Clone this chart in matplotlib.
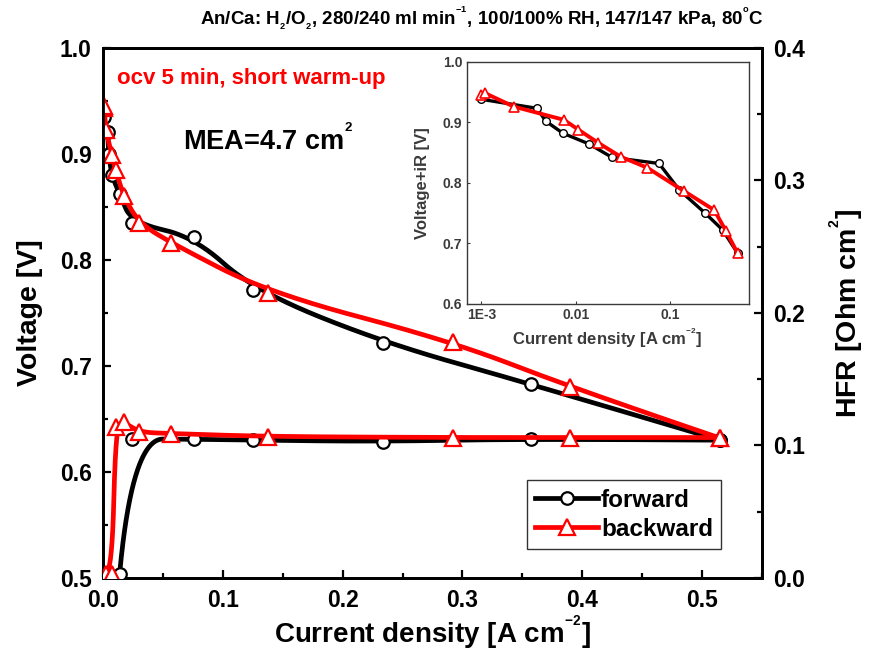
import numpy as np
import matplotlib
matplotlib.use("Agg")
import matplotlib.pyplot as plt
from matplotlib.ticker import MultipleLocator, FixedLocator, FixedFormatter, NullLocator
from matplotlib.lines import Line2D

plt.rcParams['font.family'] = ['Liberation Sans', 'DejaVu Sans']
plt.rcParams['font.weight'] = 'bold'
plt.rcParams['axes.labelweight'] = 'bold'
plt.rcParams['mathtext.fontset'] = 'custom'
plt.rcParams['mathtext.rm'] = 'Liberation Sans:bold'
plt.rcParams['mathtext.bf'] = 'Liberation Sans:bold'
plt.rcParams['mathtext.default'] = 'bf'

# ---- forward sweep (low -> high current) ----
j_fwd = [0.001, 0.0039, 0.0048, 0.0073, 0.0139, 0.0242, 0.076, 0.125, 0.234, 0.357, 0.515]
v_fwd = [0.935, 0.921, 0.900, 0.880, 0.862, 0.835, 0.822, 0.772, 0.722, 0.683, 0.630]
hfr_fwd = [np.nan, np.nan, np.nan, np.nan, 0.003, 0.105, 0.1047, 0.104, 0.103, 0.105, 0.104]
viR_fwd = [0.938, 0.923, 0.902, 0.882, 0.864, 0.842, 0.832, 0.788, 0.750, 0.7225, 0.684]

# ---- backward sweep ----
j_bwd = [0.001, 0.0011, 0.0022, 0.0075, 0.0106, 0.0173, 0.030, 0.057, 0.138, 0.292, 0.39, 0.515]
v_bwd = [0.943, 0.945, 0.923, 0.899, 0.885, 0.860, 0.835, 0.816, 0.769, 0.723, 0.680, 0.632]
hfr_bwd = [np.nan, np.nan, 0.003, 0.003, 0.114, 0.118, 0.110, 0.109, 0.1067, 0.106, 0.106, 0.106]
viR_bwd = [0.945, 0.948, 0.926, 0.904, 0.888, 0.866, 0.843, 0.825, 0.787, 0.755, 0.720, 0.684]

x_ticks = [0.0, 0.1, 0.2, 0.3, 0.4, 0.5]
v_ticks = [0.5, 0.6, 0.7, 0.8, 0.9, 1.0]
hfr_ticks = [0.0, 0.1, 0.2, 0.3, 0.4]
inset_x_ticks = [0.001, 0.01, 0.1]
inset_x_labels = ['1E-3', '0.01', '0.1']
inset_y_ticks = [0.6, 0.7, 0.8, 0.9, 1.0]


def bspline(xs, ys, k=2, n=400):
    """Clamped B-spline curve using the data points as control points."""
    xs = np.asarray(xs, float)
    ys = np.asarray(ys, float)
    ok = ~(np.isnan(xs) | np.isnan(ys))
    pts = np.column_stack([xs[ok], ys[ok]])
    m = len(pts)
    k = min(k, m - 1)
    knots = np.concatenate([np.zeros(k), np.linspace(0, 1, m - k + 1), np.ones(k)])
    t = np.linspace(0, 1, n)
    nb = len(knots) - 1
    N = np.zeros((n, nb))
    for i in range(nb):
        N[:, i] = (knots[i] <= t) & (t < knots[i + 1])
    last = max(i for i in range(nb) if knots[i] < knots[i + 1])
    N[t >= 1.0, last] = 1.0
    for p in range(1, k + 1):
        Nn = np.zeros((n, nb - p))
        for i in range(nb - p):
            d1 = knots[i + p] - knots[i]
            d2 = knots[i + p + 1] - knots[i + 1]
            a = (t - knots[i]) / d1 * N[:, i] if d1 > 0 else 0.0
            b = (knots[i + p + 1] - t) / d2 * N[:, i + 1] if d2 > 0 else 0.0
            Nn[:, i] = a + b
        N = Nn
    c = N @ pts
    return c[:, 0], c[:, 1]


def sup(s):
    return '$^{{}^{\\mathbf{' + s + '}}}$'


def sub(s):
    return '$_{{}_{\\mathbf{' + s + '}}}$'


fig = plt.figure(figsize=(8.77, 6.58), dpi=100)
ax = fig.add_axes([0.1174, 0.1216, 0.7515, 0.8055])
ax2 = ax.twinx()

BLACK = '#000000'
RED = '#ff0000'
LW = 3.4
mk_c = dict(marker='o', markersize=9, markerfacecolor='white', markeredgewidth=1.6)
mk_t = dict(marker='^', markersize=11, markerfacecolor='white', markeredgewidth=1.6)

# polarization curves (left axis)
ax.plot(*bspline(j_fwd, v_fwd), color=BLACK, lw=LW, solid_capstyle='butt', zorder=2)
ax.plot(j_fwd, v_fwd, ls='none', color=BLACK, markeredgecolor=BLACK, zorder=3, **mk_c)
ax.plot(*bspline(j_bwd, v_bwd), color=RED, lw=LW, solid_capstyle='butt', zorder=4)
ax.plot(j_bwd, v_bwd, ls='none', color=RED, markeredgecolor=RED, zorder=5, **mk_t)

# HFR curves (right axis)
ax2.plot(*bspline(j_fwd, hfr_fwd), color=BLACK, lw=LW, solid_capstyle='butt', zorder=2)
ax2.plot(j_fwd, hfr_fwd, ls='none', color=BLACK, markeredgecolor=BLACK, zorder=3, **mk_c)
ax2.plot(*bspline(j_bwd, hfr_bwd), color=RED, lw=LW, solid_capstyle='butt', zorder=4)
ax2.plot(j_bwd, hfr_bwd, ls='none', color=RED, markeredgecolor=RED, zorder=5, **mk_t)

ax.set_xlim(0.0, 0.55)
ax.set_ylim(0.5, 1.0)
ax2.set_ylim(0.0, 0.4)

ax.xaxis.set_major_locator(FixedLocator(x_ticks))
ax.xaxis.set_minor_locator(MultipleLocator(0.05))
ax.yaxis.set_major_locator(FixedLocator(v_ticks))
ax.yaxis.set_minor_locator(MultipleLocator(0.05))
ax2.yaxis.set_major_locator(FixedLocator(hfr_ticks))
ax2.yaxis.set_minor_locator(MultipleLocator(0.05))
ax.xaxis.set_major_formatter(FixedFormatter([f'{t:.1f}' for t in x_ticks]))
ax.yaxis.set_major_formatter(FixedFormatter([f'{t:.1f}' for t in v_ticks]))
ax2.yaxis.set_major_formatter(FixedFormatter([f'{t:.1f}' for t in hfr_ticks]))

for a in (ax, ax2):
    for s in a.spines.values():
        s.set_linewidth(2.0)
    a.tick_params(which='major', direction='in', length=6, width=1.6, labelsize=16.5, pad=8)
    a.tick_params(which='minor', direction='in', length=3.5, width=1.6)
ax.tick_params(axis='both', which='both', top=False, right=False)
ax2.tick_params(axis='y', which='both', left=False)

ax.set_xlabel('Current density [A cm' + sup('-2') + ']', fontsize=20, labelpad=1)
ax.set_ylabel('Voltage [V]', fontsize=20.5, labelpad=12)
ax2.set_ylabel('HFR [Ohm cm' + sup('2') + ']', fontsize=20.5, labelpad=16)

ax.text(0.021, 0.943, 'ocv 5 min, short warm-up', color=RED, fontsize=16,
        transform=ax.transAxes, va='center', ha='left')
ax.text(0.121, 0.826, 'MEA=4.7 cm' + sup('2'), fontsize=19.5, transform=ax.transAxes,
        va='center', ha='left', zorder=6)

fig.text(0.55, 0.972, 'An/Ca: H' + sub('2') + '/O' + sub('2') + ', 280/240 ml min' + sup('-1')
         + ', 100/100% RH, 147/147 kPa, 80' + sup('o') + 'C',
         fontsize=13.5, ha='center', va='center', family=['Liberation Sans Narrow', 'Liberation Sans'])

handles = [
    Line2D([], [], color=BLACK, lw=LW, markeredgecolor=BLACK, **mk_c),
    Line2D([], [], color=RED, lw=LW, markeredgecolor=RED, **mk_t),
]
leg = ax.legend(handles, ['forward', 'backward'], loc='lower left',
                bbox_to_anchor=(0.643, 0.054), fontsize=17.5, frameon=True,
                fancybox=False, edgecolor='black', handlelength=2.6, handletextpad=0.1,
                borderpad=0.35, labelspacing=0.25, borderaxespad=0.0)
leg.get_frame().set_linewidth(1.0)
leg.set_zorder(10)

# inset: iR-corrected voltage on log current scale
GRAY = '#3a3a3a'
axi = fig.add_axes([0.5321, 0.538, 0.3219, 0.3682])
axi.plot(j_fwd, viR_fwd, color=BLACK, lw=2.4, marker='o', markersize=5.5,
         markerfacecolor='white', markeredgecolor=BLACK, markeredgewidth=1.0, zorder=2)
axi.plot(j_bwd, viR_bwd, color=RED, lw=2.8, marker='^', markersize=7.5,
         markerfacecolor='white', markeredgecolor=RED, markeredgewidth=1.2, zorder=3)
axi.set_xscale('log')
axi.set_xlim(7.0e-4, 0.68)
axi.set_ylim(0.6, 1.0)
axi.xaxis.set_major_locator(FixedLocator(inset_x_ticks))
axi.xaxis.set_major_formatter(FixedFormatter(inset_x_labels))
axi.xaxis.set_minor_locator(NullLocator())
axi.yaxis.set_major_locator(FixedLocator(inset_y_ticks))
axi.yaxis.set_major_formatter(FixedFormatter([f'{t:.1f}' for t in inset_y_ticks]))
axi.tick_params(which='both', direction='in', length=2, width=0.8, colors=GRAY,
                labelsize=10, pad=3)
for s in axi.spines.values():
    s.set_linewidth(1.0)
    s.set_color(GRAY)
axi.set_xlabel('Current density [A cm' + sup('-2') + ']', fontsize=12, color=GRAY, labelpad=3)
axi.set_ylabel('Voltage+iR [V]', fontsize=12, color=GRAY, labelpad=9)

fig.savefig('out.png', dpi=100)
